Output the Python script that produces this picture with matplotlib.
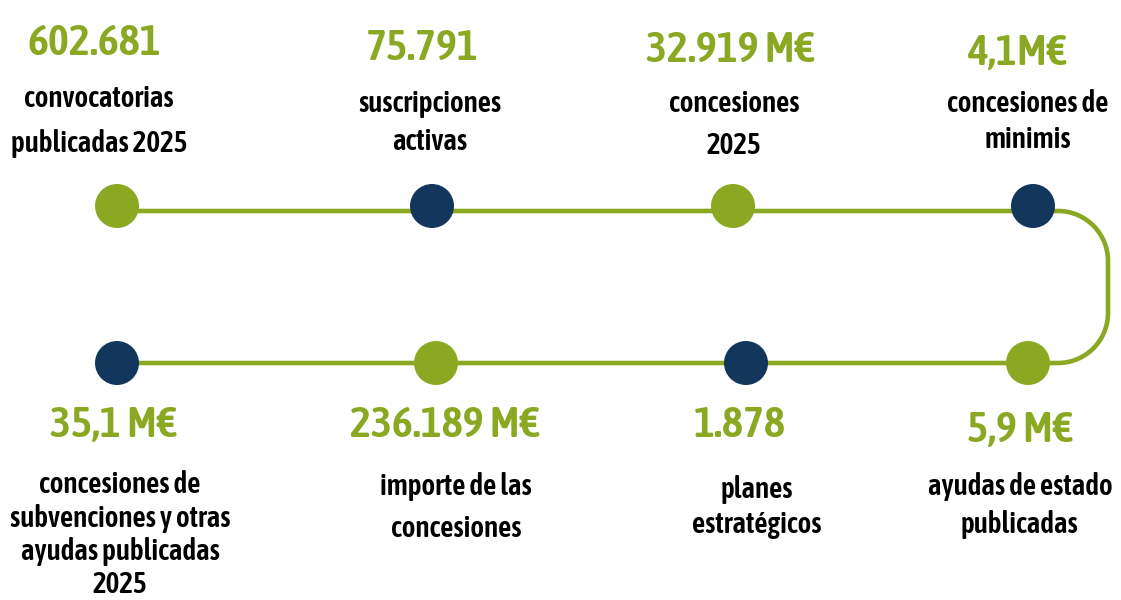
import matplotlib
matplotlib.use("Agg")
import matplotlib.pyplot as plt
from matplotlib.path import Path
from matplotlib.patches import PathPatch, Circle

# ---- data ----
top_values = ["602.681", "75.791", "32.919 M€", "4,1M€"]
top_labels = [["convocatorias", "publicadas 2025"],
              ["suscripciones", "activas"],
              ["concesiones", "2025"],
              ["concesiones de", "minimis"]]
bottom_values = ["35,1 M€", "236.189 M€", "1.878", "5,9 M€"]
bottom_labels = [["concesiones de", "subvenciones y otras", "ayudas publicadas", "2025"],
                 ["importe de las", "concesiones"],
                 ["planes", "estratégicos"],
                 ["ayudas de estado", "publicadas"]]

GREEN = "#8BA823"
NAVY = "#13375C"
top_colors = [GREEN, NAVY, GREEN, NAVY]
bottom_colors = [NAVY, GREEN, NAVY, GREEN]

# ---- layout (pixel coordinates) ----
W, H = 1121, 600
top_node_x = [117, 432, 733, 1033]
top_node_y = 206
bottom_node_x = [117, 436, 746, 1028]
bottom_node_y = 363
line_top_y, line_bot_y = 211, 363
left_x, right_x, rad = 117, 1108, 50
node_r = 22

top_val_pos = [(94, 55), (422, 60), (730, 62), (1017, 65)]
top_lab_x = [99, 430, 734, 1028]
top_lab_base = [[107, 152], [112, 150], [112, 154], [112, 148]]
bot_val_pos = [(113, 437), (445, 437), (740, 437), (1020, 442)]
bot_lab_x = [120, 456, 757, 1020]
bot_lab_base = [[493, 527, 560, 593], [495, 537], [498, 533], [495, 533]]

FAM = ["Asap Condensed", "DejaVu Sans"]
VAL_SIZE = 32
LAB_SIZE = 21

fig = plt.figure(figsize=(W / 100, H / 100), dpi=100)
ax = fig.add_axes([0, 0, 1, 1])
ax.set_xlim(0, W)
ax.set_ylim(H, 0)
ax.axis("off")

# connecting line with rounded right turn
k = 0.5523 * rad
verts = [(left_x, line_top_y), (right_x - rad, line_top_y),
         (right_x - rad + k, line_top_y), (right_x, line_top_y + rad - k), (right_x, line_top_y + rad),
         (right_x, line_bot_y - rad),
         (right_x, line_bot_y - rad + k), (right_x - rad + k, line_bot_y), (right_x - rad, line_bot_y),
         (left_x, line_bot_y)]
codes = [Path.MOVETO, Path.LINETO,
         Path.CURVE4, Path.CURVE4, Path.CURVE4,
         Path.LINETO,
         Path.CURVE4, Path.CURVE4, Path.CURVE4,
         Path.LINETO]
ax.add_patch(PathPatch(Path(verts, codes), facecolor="none", edgecolor=GREEN,
                       lw=3.3, capstyle="butt", joinstyle="round", zorder=1))

for x, c in zip(top_node_x, top_colors):
    ax.add_patch(Circle((x, top_node_y), node_r, facecolor=c, edgecolor="none", zorder=2))
for x, c in zip(bottom_node_x, bottom_colors):
    ax.add_patch(Circle((x, bottom_node_y), node_r, facecolor=c, edgecolor="none", zorder=2))

def put_values(vals, pos):
    for v, (x, y) in zip(vals, pos):
        ax.text(x, y, v, ha="center", va="baseline", color=GREEN, fontsize=VAL_SIZE,
                fontweight="semibold", family=FAM)

def put_labels(labs, xs, bases):
    for lines, x, ys in zip(labs, xs, bases):
        for line, y in zip(lines, ys):
            ax.text(x, y, line, ha="center", va="baseline", color="black", fontsize=LAB_SIZE,
                    fontweight="semibold", family=FAM)

put_values(top_values, top_val_pos)
put_values(bottom_values, bot_val_pos)
put_labels(top_labels, top_lab_x, top_lab_base)
put_labels(bottom_labels, bot_lab_x, bot_lab_base)

fig.savefig("out.png", dpi=100, facecolor="white")
